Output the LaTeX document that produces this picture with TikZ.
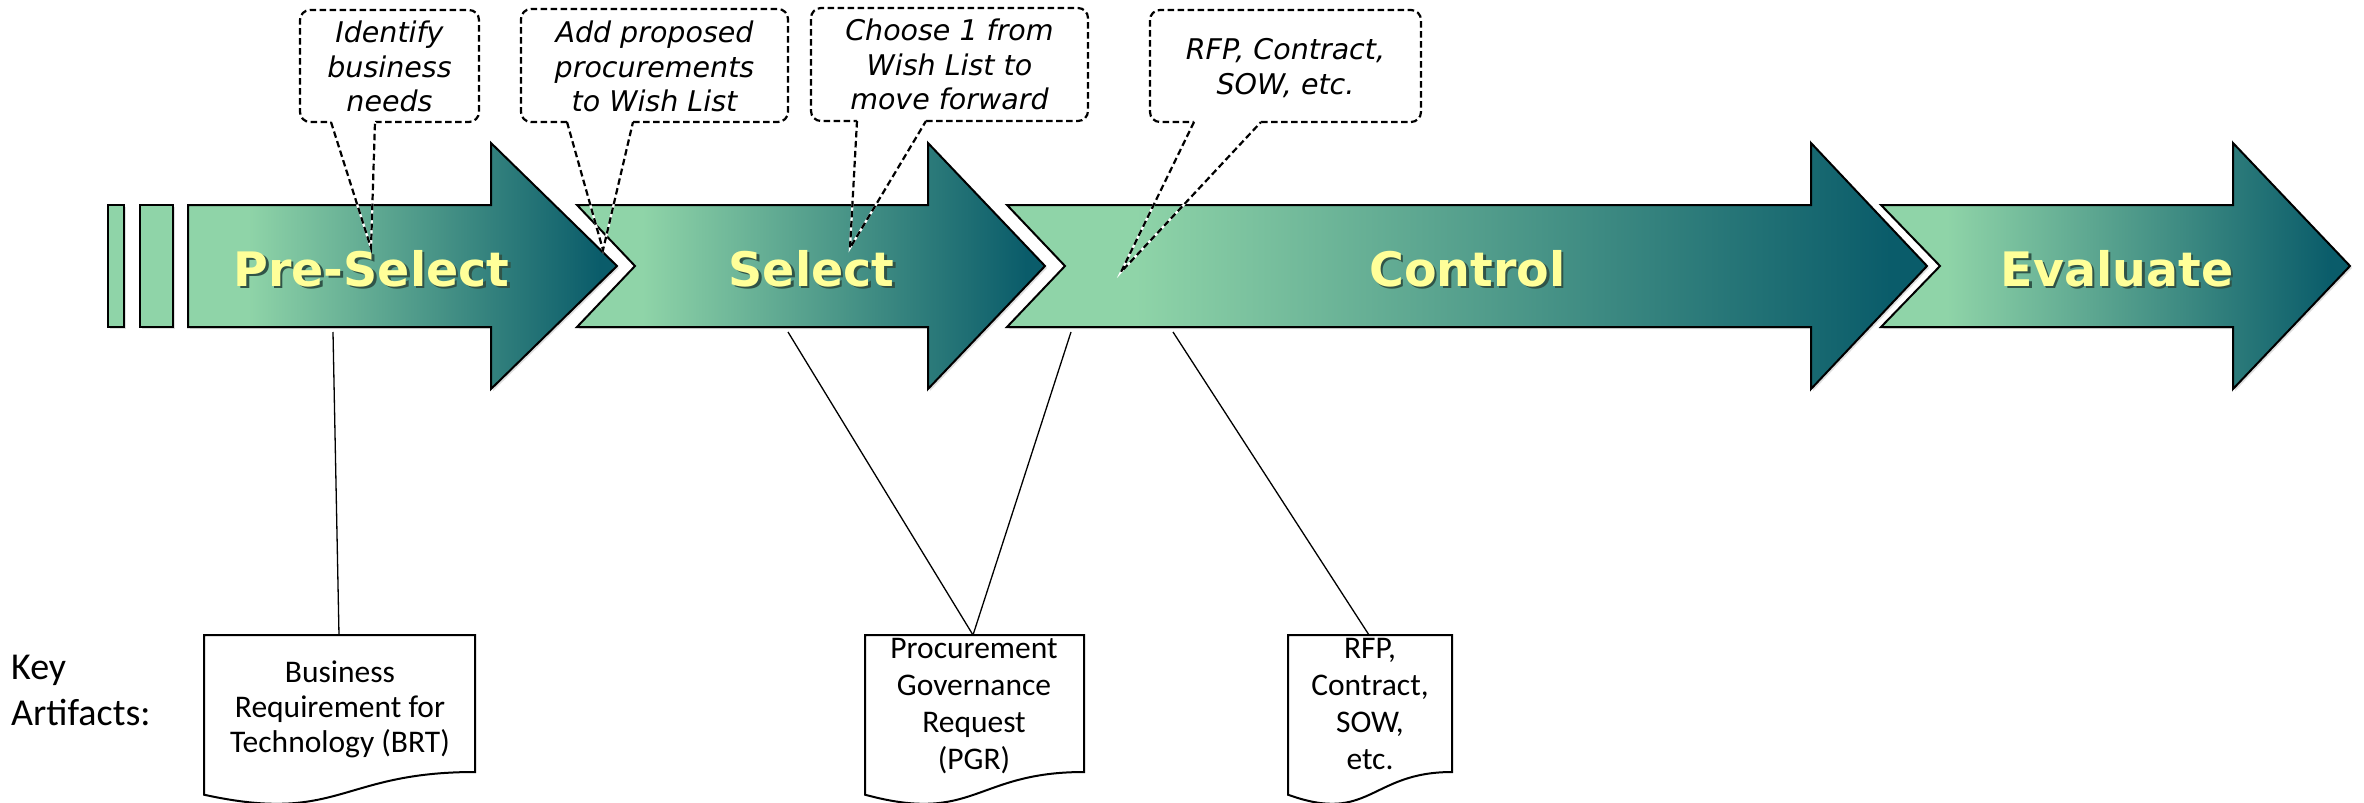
\documentclass[tikz,border=0pt]{standalone}
\usepackage{fontspec}
\setmainfont{Carlito}
\newfontfamily\stagefont{DejaVu Sans}
\newfontfamily\notefont{DejaVu Sans}
\usetikzlibrary{shadows}

\definecolor{stL}{RGB}{143,212,168}
\definecolor{stD}{RGB}{10,92,106}
\definecolor{stText}{RGB}{255,255,153}
\definecolor{stShadow}{RGB}{48,84,72}

% light green on the left, deep teal towards the arrow head
\pgfdeclarehorizontalshading{stageshade}{100bp}{color(0bp)=(stL); color(25bp)=(stL); color(32bp)=(stL); color(73bp)=(stD); color(100bp)=(stD)}

% block arrow: left x, notch x, head base x, tip x
\newcommand\stagepath[4]{(#1,205) -- (#3,205) -- (#3,143) -- (#4,266) -- (#3,389) -- (#3,327) -- (#1,327) -- (#2,266) -- cycle}
% yellow label with a dark offset copy behind it
\newcommand\shadowed[1]{\rlap{\kern2.5pt\raisebox{-2.5pt}{\color{stShadow}#1}}#1}
% dashed speech bubble: box x0,y0,x1,y1, tail base a..b, tail tip
\newcommand\bubble[8]{%
  \draw[calloutback] (#6,#4) -- (#3,#4) -- (#3,#2) -- (#1,#2) -- (#1,#4) -- (#5,#4);
  \draw[callout] (#6,#4) -- (#3,#4) -- (#3,#2) -- (#1,#2) -- (#1,#4) -- (#5,#4);
  \draw[tailback] (#5,#4) -- (#7,#8) -- (#6,#4);
  \draw[tail] (#5,#4) -- (#7,#8) -- (#6,#4);}
% flowchart "document" outline between x0 and x1
\newcommand\docshape[2]{%
  \draw[artifact] (#1,635) -- (#2,635) -- (#2,772) .. controls ({(#1+#2)/2},772) and ({(#1+#2)/2},824.4) .. (#1,794.7) -- cycle;}

\tikzset{
  stagebody/.style={shading=stageshade, draw=black, line width=2pt, line join=miter,
    drop shadow={shadow xshift=2pt, shadow yshift=-2pt, opacity=0.25}},
  bar/.style={fill=stL, draw=black, line width=2pt,
    drop shadow={shadow xshift=2pt, shadow yshift=-2pt, opacity=0.25}},
  stagelabel/.style={font=\stagefont\bfseries\fontsize{47.5}{50}\selectfont, text=stText, inner sep=0pt, anchor=base},
  callout/.style={draw=black, dash pattern=on 6.5pt off 3.5pt, line width=2.2pt, rounded corners=10pt},
  calloutback/.style={draw=white, line width=2.2pt, rounded corners=10pt},
  tail/.style={draw=black, dash pattern=on 6.5pt off 3.5pt, line width=2.2pt},
  tailback/.style={draw=white, line width=2.2pt},
  note/.style={font=\notefont\itshape\fontsize{28.5}{34.5}\selectfont, align=center, inner sep=0pt},
  artifact/.style={draw=black, line width=2pt, fill=white},
  doctext/.style={font=\fontsize{31.5}{37}\selectfont, align=center, inner sep=0pt},
  keytext/.style={font=\fontsize{38}{46}\selectfont, align=left, inner sep=0pt, anchor=west},
  link/.style={draw=black, line width=1.3pt},
}

\begin{document}
\begin{tikzpicture}[x=1pt, y=-1pt]
\useasboundingbox[fill=white] (0,0) rectangle (2364,803);

% lead-in bars
\draw[bar] (108,205) rectangle (124,327);
\draw[bar] (140,205) rectangle (173,327);

% the four stage arrows
\path[stagebody] \stagepath{188}{188}{491}{617};
\path[stagebody] \stagepath{577}{635}{928}{1045};
\path[stagebody] \stagepath{1007}{1065}{1811}{1927};
\path[stagebody] \stagepath{1881}{1940}{2233}{2350};

\node[stagelabel] (preselect) at (371.5,286) {\shadowed{Pre-Select}};
\node[stagelabel] (select) at (811.5,286) {\shadowed{Select}};
\node[stagelabel] (control) at (1467.5,286) {\shadowed{Control}};
\node[stagelabel] (evaluate) at (2117,286) {\shadowed{Evaluate}};

% speech bubbles above the arrows
\bubble{300}{10}{479}{122}{331}{375}{371}{248}
\bubble{521}{9}{788}{122}{567}{633}{603}{250}
\bubble{811}{8}{1088}{121}{857}{926}{850}{248}
\bubble{1150}{10}{1421}{122}{1194}{1261}{1121}{272}

\node[note] (needs) at (389.5,70.3) {\strut Identify\\\strut business\\\strut needs};
\node[note] (wish) at (654.5,70.3) {\strut Add proposed\\\strut procurements\\\strut to Wish List};
\node[note] (choose) at (949.5,68.3) {\strut Choose 1 from\\\strut Wish List to\\\strut move forward};
\node[note] (docs) at (1285.5,70.3) {\strut RFP, Contract,\\\strut SOW, etc.};

% key artifacts
\node[keytext] (key) at (11,693) {\strut Key\\\strut Artifacts:};

\docshape{204}{475}
\docshape{865}{1084}
\docshape{1288}{1452}

\node[doctext, font=\fontsize{31.5}{35}\selectfont] (brt) at (340,710) {\strut Business\\\strut Requirement for\\\strut Technology (BRT)};
\node[doctext] (pgr) at (974,706.6) {\strut Procurement\\\strut Governance\\\strut Request\\\strut (PGR)};
\node[doctext] (rfp) at (1370,706.6) {\strut RFP,\\\strut Contract,\\\strut SOW,\\\strut etc.};

% connectors from the stages down to their artifacts
\coordinate (psFoot) at (333,332);
\coordinate (selFoot) at (788,332);
\coordinate (ctlFootA) at (1071,332);
\coordinate (ctlFootB) at (1173,332);
\coordinate (brtTop) at (339,635);
\coordinate (pgrTop) at (973,635);
\coordinate (rfpTop) at (1369,635);

\draw[link] (psFoot) -- (brtTop);
\draw[link] (selFoot) -- (pgrTop);
\draw[link] (ctlFootA) -- (pgrTop);
\draw[link] (ctlFootB) -- (rfpTop);
\end{tikzpicture}
\end{document}
